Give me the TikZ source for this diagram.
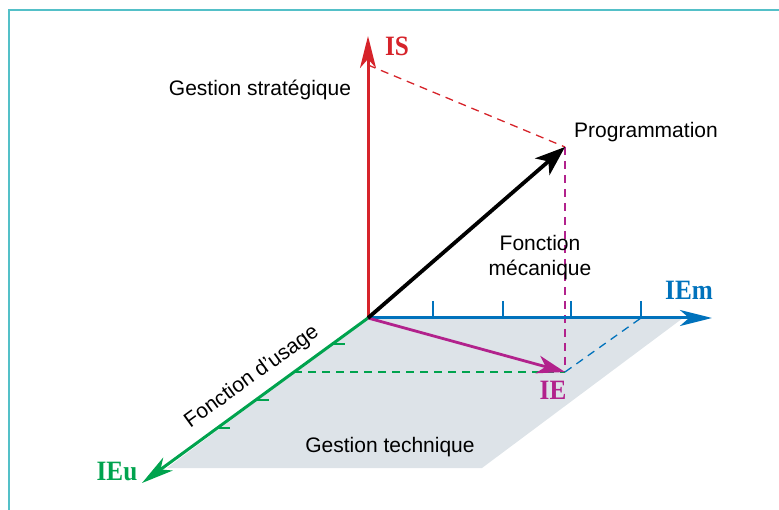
\documentclass[tikz,border=0pt]{standalone}
\usepackage{fontspec}
\setmainfont{Liberation Serif}
\setsansfont{Liberation Sans}
\usetikzlibrary{arrows.meta}
\definecolor{axred}{RGB}{214,35,42}
\definecolor{axblue}{RGB}{0,114,188}
\definecolor{axgreen}{RGB}{0,163,78}
\definecolor{axmag}{RGB}{178,34,140}
\definecolor{planegray}{RGB}{221,227,232}
\definecolor{frameteal}{RGB}{84,192,200}

\begin{document}
\begin{tikzpicture}[x=1pt,y=-1pt,
  txt/.style={font=\sffamily\fontsize{21}{25}\selectfont,align=center},
  axlab/.style={font=\bfseries\fontsize{28}{30}\selectfont,xscale=0.9},
  axis/.style={line width=3pt,-{Stealth[length=32pt,width=16pt,inset=9pt]}},
  proj/.style={line width=1.3pt,dash pattern=on 8pt off 6pt},
  tick/.style={line width=1.4pt}]
  \useasboundingbox (0,0) rectangle (779,510);
  % frame (cut off at right and bottom)
  \draw[frameteal,line width=2pt] (9,510) -- (9,10) -- (779,10);

  % points of the diagram
  \coordinate (O) at (368,318);
  \coordinate (IStip) at (368,36);
  \coordinate (IEmtip) at (712,318);
  \coordinate (IEutip) at (142,483);
  \coordinate (P) at (565,147);
  \coordinate (IEpt) at (565,372);
  \coordinate (ISproj) at (368,65);
  \coordinate (IEuproj) at (294,372);
  \coordinate (IEmproj) at (641,318);

  % technical plane
  \fill[planegray] (O) -- (683,318) -- (482,468) -- (167,468) -- cycle;

  % projections
  \draw[proj,axred] (ISproj) -- (P);
  \draw[proj,axmag] (P) -- (IEpt);
  \draw[proj,axgreen] (IEuproj) -- (IEpt);
  \draw[proj,axblue] (IEpt) -- (IEmproj);

  % ticks
  \foreach \x in {433,503,571,641}
    \draw[tick,axblue] (\x,301) -- (\x,318);
  \foreach \y in {344,400,428}
    \draw[tick,axgreen] ({368-(\y-318)*1.3697},\y) -- ++(13,0);

  % axes and vectors
  \draw[axis,axred] (O) -- (IStip);
  \draw[axis,axblue] (O) -- (IEmtip);
  \draw[axis,axgreen] (O) -- (IEutip);
  \draw[line width=2.8pt,axmag,-{Stealth[length=28pt,width=18pt,inset=8pt]}] (O) -- (IEpt);
  \draw[line width=3.8pt,black,-{Stealth[length=30pt,width=22pt,inset=8pt]}] (O) -- (P);

  % labels
  \node[axlab,text=axred] (ISlab) at (397,46) {IS};
  \node[axlab,text=axblue] (IEmlab) at (689,290) {IEm};
  \node[axlab,text=axmag] (IElab) at (553,390) {IE};
  \node[axlab,text=axgreen] (IEulab) at (117,472) {IEu};
  \node[txt] (strat) at (260,90) {Gestion stratégique};
  \node[txt] (prog) at (646,132) {Programmation};
  \node[txt] (meca) at (540,258) {Fonction\\mécanique};
  \node[txt,rotate=36] (usage) at (252,377) {Fonction d'usage};
  \node[txt] (tech) at (390,447) {Gestion technique};
\end{tikzpicture}
\end{document}
